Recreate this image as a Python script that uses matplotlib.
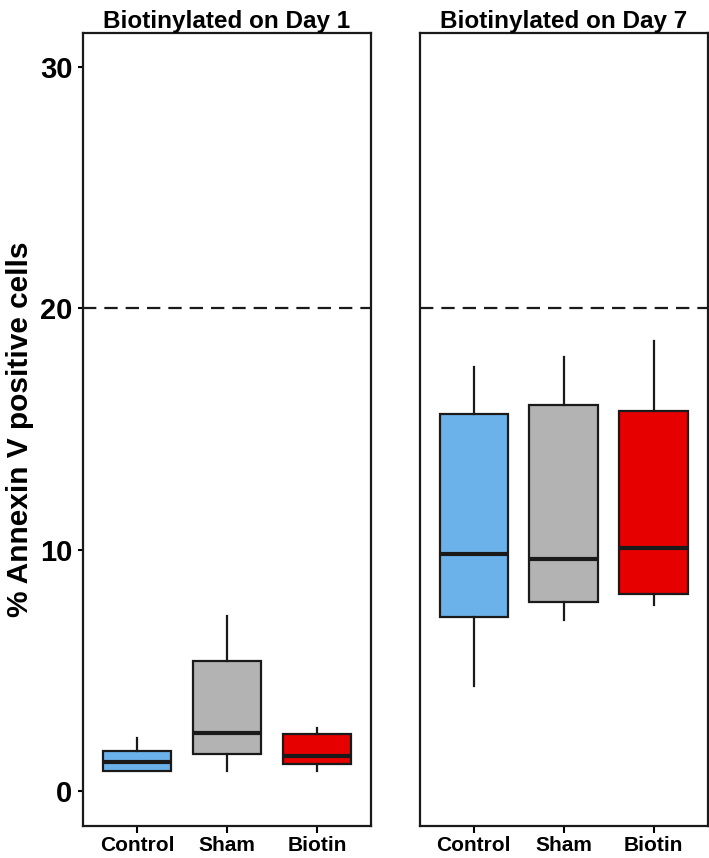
import matplotlib
matplotlib.use("Agg")
import matplotlib.pyplot as plt

# данные
groups = ["Control", "Sham", "Biotin"]
colors = ["#6cb2ea", "#b3b3b3", "#e60000"]

day1_q1 = [0.83, 1.53, 1.12]
day1_med = [1.2, 2.4, 1.45]
day1_q3 = [1.66, 5.39, 2.36]
day1_lo = [0.83, 0.83, 0.83]
day1_hi = [2.2, 7.25, 2.6]

day7_q1 = [7.21, 7.83, 8.16]
day7_med = [9.82, 9.6, 10.07]
day7_q3 = [15.62, 16.0, 15.75]
day7_lo = [4.35, 7.09, 7.71]
day7_hi = [17.57, 17.98, 18.65]

titles = ["Biotinylated on Day 1", "Biotinylated on Day 7"]
threshold = 20

plt.rcParams["font.family"] = ["Liberation Sans", "DejaVu Sans"]
plt.rcParams["font.weight"] = "bold"

fig = plt.figure(figsize=(7.09, 8.58), dpi=100)
ax1 = fig.add_axes([0.117, 0.0373, 0.406, 0.924])
ax2 = fig.add_axes([0.592, 0.0373, 0.406, 0.924])


def make_stats(q1, med, q3, lo, hi):
    stats = []
    for i in range(len(groups)):
        stats.append({"q1": q1[i], "med": med[i], "q3": q3[i],
                      "whislo": lo[i], "whishi": hi[i],
                      "fliers": [], "label": groups[i]})
    return stats


panels = [
    (ax1, make_stats(day1_q1, day1_med, day1_q3, day1_lo, day1_hi)),
    (ax2, make_stats(day7_q1, day7_med, day7_q3, day7_lo, day7_hi)),
]

for k, (ax, stats) in enumerate(panels):
    bp = ax.bxp(stats, positions=[1, 2, 3], widths=0.76, patch_artist=True,
                showcaps=False, showfliers=False,
                boxprops=dict(linewidth=1.6, edgecolor="#1a1a1a"),
                medianprops=dict(color="#1a1a1a", linewidth=3),
                whiskerprops=dict(color="#1a1a1a", linewidth=1.6))
    for patch, c in zip(bp["boxes"], colors):
        patch.set_facecolor(c)
    ax.axhline(threshold, color="#1a1a1a", linestyle=(0, (6, 3.6)), linewidth=1.6)
    ax.set_xlim(0.4, 3.6)
    ax.set_ylim(-1.45, 31.4)
    ax.set_title(titles[k], fontsize=17.5, fontweight="bold", pad=4)
    ax.tick_params(axis="x", labelsize=15, length=5, width=1.5, pad=2)
    ax.set_yticks([0, 10, 20, 30])
    for s in ax.spines.values():
        s.set_linewidth(1.6)
        s.set_color("#1a1a1a")

ax1.tick_params(axis="y", labelsize=21, length=3.5, width=1.5, pad=4)
ax1.set_ylabel("% Annexin V positive cells", fontsize=21.5, fontweight="bold", labelpad=4)
ax2.tick_params(axis="y", left=False, labelleft=False)

fig.savefig("out.png", dpi=100)
